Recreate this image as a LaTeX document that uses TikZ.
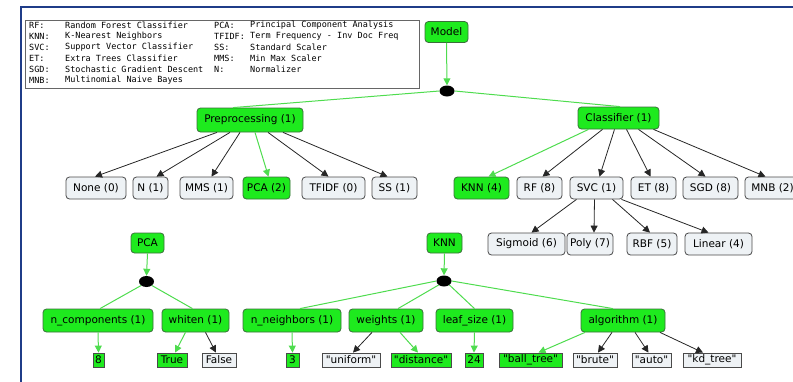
\documentclass[tikz,border=0pt]{standalone}
\usepackage{fontspec}
\setmainfont{DejaVu Sans}
\newfontfamily\legendfont{DejaVu Sans Mono}
\usetikzlibrary{arrows.meta,shapes.geometric}

\definecolor{framecol}{HTML}{1F3C88}
\definecolor{selfill}{HTML}{1EEA1E}
\definecolor{selline}{HTML}{4EDC4E}
\definecolor{optfill}{HTML}{EEF2F5}
\definecolor{edgecol}{HTML}{4A4A4A}

\newcommand\qt[1]{\textquotedbl#1\textquotedbl}

\tikzset{
  base/.style={inner sep=0pt, line width=0.8pt, font=\fontsize{10.5}{12}\selectfont, align=center},
  selbox/.style={base, rounded corners=3.5pt, fill=selfill, draw=edgecol!80!green, minimum height=22pt},
  optbox/.style={base, rounded corners=3.5pt, fill=optfill, draw=edgecol, minimum height=22pt},
  selleaf/.style={base, fill=selfill, draw=edgecol, minimum height=14pt},
  optleaf/.style={base, fill=optfill, draw=edgecol, minimum height=14pt},
  junction/.style={ellipse, fill=black, inner sep=0pt, minimum width=15pt, minimum height=11pt},
  tip/.style={-{Triangle[length=7pt,width=7pt]}},
  selarrow/.style={tip, draw=selline, line width=1pt},
  optarrow/.style={tip, draw=black!85, line width=0.8pt},
  selline/.style={draw=selline, line width=1pt},
  legendtext/.style={anchor=west, inner sep=0pt, font=\legendfont\fontsize{8.5}{10}\selectfont},
}

\begin{document}
\begin{tikzpicture}[x=1pt, y=-1pt]
\useasboundingbox (0,0) rectangle (793,381);
\clip (0,0) rectangle (793,381);

% outer frame
\draw[framecol, line width=2pt] (21,382) -- (21,7) -- (794,7);

% abbreviation legend
\node[draw=black!60, line width=0.8pt, minimum width=394pt, minimum height=68pt, anchor=north west, inner sep=0pt] (legend) at (25,20) {};
\foreach \y/\a/\b in {25/RF:/Random Forest Classifier, 36/KNN:/K-Nearest Neighbors, 47/SVC:/Support Vector Classifier, 58/ET:/Extra Trees Classifier, 69/SGD:/Stochastic Gradient Descent, 80/MNB:/Multinomial Naive Bayes}{
  \node[legendtext] at (29,\y) {\a};
  \node[legendtext] at (65,\y) {\b};
}
\foreach \y/\a/\b in {25/PCA:/Principal Component Analysis, 36/TFIDF:/Term Frequency - Inv Doc Freq, 47/SS:/Standard Scaler, 58/MMS:/Min Max Scaler, 69/N:/Normalizer}{
  \node[legendtext] at (214,\y) {\a};
  \node[legendtext] at (250,\y) {\b};
}

% root
\node[selbox, minimum width=43pt, minimum height=21pt] (model) at (446.5,32) {Model};
\node[junction] (j0) at (447,91) {};

\node[selbox, minimum width=106pt, minimum height=24pt] (prep) at (250,120) {Preprocessing (1)};
\node[selbox, minimum width=81pt, minimum height=22pt] (clf) at (618.5,118) {Classifier (1)};

% preprocessing options
\node[optbox, minimum width=60pt] (none) at (96,188) {None (0)};
\node[optbox, minimum width=35pt] (norm) at (150.5,188) {N (1)};
\node[optbox, minimum width=53pt] (mms) at (206.5,188) {MMS (1)};
\node[selbox, minimum width=47pt] (pcaopt) at (266.5,188) {PCA (2)};
\node[optbox, minimum width=63pt] (tfidf) at (333.5,188) {TFIDF (0)};
\node[optbox, minimum width=45pt] (ss) at (394.5,188) {SS (1)};

% classifier options
\node[selbox, minimum width=55pt] (knnopt) at (481.5,188) {KNN (4)};
\node[optbox, minimum width=45pt] (rf) at (539.5,188) {RF (8)};
\node[optbox, minimum width=53pt] (svc) at (596.5,188) {SVC (1)};
\node[optbox, minimum width=45pt] (et) at (653.5,188) {ET (8)};
\node[optbox, minimum width=55pt] (sgd) at (710.5,188) {SGD (8)};
\node[optbox, minimum width=55pt] (mnb) at (772.5,188) {MNB (2)};

% SVC kernels
\node[optbox, minimum width=77pt] (sigmoid) at (526.5,244) {Sigmoid (6)};
\node[optbox, minimum width=46pt] (poly) at (590,244) {Poly (7)};
\node[optbox, minimum width=50pt] (rbf) at (652,244) {RBF (5)};
\node[optbox, minimum width=67pt] (linear) at (718.5,244) {Linear (4)};

% PCA parameters
\node[selbox, minimum width=33pt, minimum height=20pt] (pca) at (147.5,243) {PCA};
\node[junction] (j1) at (146.5,281.5) {};
\node[selbox, minimum width=110pt, minimum height=23pt] (ncomp) at (98,320.5) {n\_components (1)};
\node[selbox, minimum width=67pt, minimum height=23pt] (whiten) at (195.5,320.5) {whiten (1)};
\node[selleaf, minimum width=11pt] (v8) at (98.5,360) {8};
\node[selleaf, minimum width=30pt] (vtrue) at (172,360) {True};
\node[optleaf, minimum width=34pt] (vfalse) at (219,360) {False};

% KNN parameters
\node[selbox, minimum width=35pt, minimum height=20pt] (knn) at (444.5,243) {KNN};
\node[junction] (j2) at (444,281) {};
\node[selbox, minimum width=98pt, minimum height=23pt] (nneigh) at (292,320.5) {n\_neighbors (1)};
\node[selbox, minimum width=74pt, minimum height=23pt] (weights) at (386,320.5) {weights (1)};
\node[selbox, minimum width=77pt, minimum height=23pt] (leaf) at (474.5,320.5) {leaf\_size (1)};
\node[selbox, minimum width=84pt, minimum height=23pt] (algo) at (623,320.5) {algorithm (1)};
\node[selleaf, minimum width=13pt] (v3) at (292.5,360) {3};
\node[optleaf, minimum width=58pt] (vuni) at (351,360) {\qt{uniform}};
\node[selleaf, minimum width=60pt] (vdist) at (421,360) {\qt{distance}};
\node[selleaf, minimum width=18pt] (v24) at (474,360) {24};
\node[selleaf, minimum width=63pt] (vball) at (530.5,360) {\qt{ball\_tree}};
\node[optleaf, minimum width=44pt] (vbrute) at (595,360) {\qt{brute}};
\node[optleaf, minimum width=39pt] (vauto) at (651.5,360) {\qt{auto}};
\node[optleaf, minimum width=58pt] (vkd) at (712,360) {\qt{kd\_tree}};

% top level connectors
\draw[selarrow] (model.south) -- (j0.north);
\draw[selline] (j0.west) -- ([xshift=-17pt]prep.north);
\draw[selline] (j0.east) -- ([xshift=1.5pt]clf.north);

% preprocessing arrows
\draw[optarrow] ([xshift=-33pt]prep.south) -- ([xshift=-1pt]none.north);
\draw[optarrow] ([xshift=-20pt]prep.south) -- ([xshift=6pt]norm.north);
\draw[optarrow] ([xshift=-10pt]prep.south) -- ([xshift=5pt]mms.north);
\draw[selarrow] ([xshift=5pt]prep.south) -- ([xshift=2pt]pcaopt.north);
\draw[optarrow] ([xshift=18pt]prep.south) -- ([xshift=-5pt]tfidf.north);
\draw[optarrow] ([xshift=33pt]prep.south) -- ([xshift=-7pt]ss.north);

% classifier arrows
\draw[selarrow] ([xshift=-30pt]clf.south) -- ([xshift=7pt]knnopt.north);
\draw[optarrow] ([xshift=-16pt]clf.south) -- ([xshift=3pt]rf.north);
\draw[optarrow] ([xshift=-4pt]clf.south) -- ([xshift=3pt]svc.north);
\draw[optarrow] ([xshift=8pt]clf.south) -- ([xshift=-3pt]et.north);
\draw[optarrow] ([xshift=20pt]clf.south) -- ([xshift=-5pt]sgd.north);
\draw[optarrow] ([xshift=35pt]clf.south) -- ([xshift=-7pt]mnb.north);

% kernel arrows
\draw[optarrow] ([xshift=-20pt]svc.south) -- ([xshift=5pt]sigmoid.north);
\draw[optarrow] ([xshift=-2pt]svc.south) -- ([xshift=4pt]poly.north);
\draw[optarrow] ([xshift=16pt]svc.south) -- ([xshift=-2pt]rbf.north);
\draw[optarrow] ([xshift=25pt]svc.south) -- ([xshift=-10pt]linear.north);

% PCA subtree
\draw[selarrow] (pca.south) -- (j1.north);
\draw[selline] (j1.south west) -- ([xshift=2pt]ncomp.north);
\draw[selline] (j1.south east) -- ([xshift=-3pt]whiten.north);
\draw[selarrow] (ncomp.south) -- (v8.north);
\draw[selarrow] ([xshift=-10pt]whiten.south) -- ([xshift=3pt]vtrue.north);
\draw[optarrow] ([xshift=10pt]whiten.south) -- ([xshift=-3pt]vfalse.north);

% KNN subtree
\draw[selarrow] (knn.south) -- (j2.north);
\draw[selline] (j2.west) -- ([xshift=8pt]nneigh.north);
\draw[selline] (j2.south west) -- ([xshift=12pt]weights.north);
\draw[selline] (j2.south east) -- (leaf.north);
\draw[selline] (j2.east) -- ([xshift=-10pt]algo.north);
\draw[selarrow] (nneigh.south) -- (v3.north);
\draw[optarrow] ([xshift=-14pt]weights.south) -- ([xshift=2pt]vuni.north);
\draw[selarrow] ([xshift=14pt]weights.south) -- ([xshift=-3pt]vdist.north);
\draw[selarrow] (leaf.south) -- (v24.north);
\draw[selarrow] ([xshift=-38pt]algo.south) -- ([xshift=8pt]vball.north);
\draw[optarrow] ([xshift=-11pt]algo.south) -- ([xshift=3pt]vbrute.north);
\draw[optarrow] ([xshift=12pt]algo.south) -- ([xshift=-3pt]vauto.north);
\draw[optarrow] ([xshift=37pt]algo.south) -- ([xshift=-9pt]vkd.north);
\end{tikzpicture}
\end{document}
